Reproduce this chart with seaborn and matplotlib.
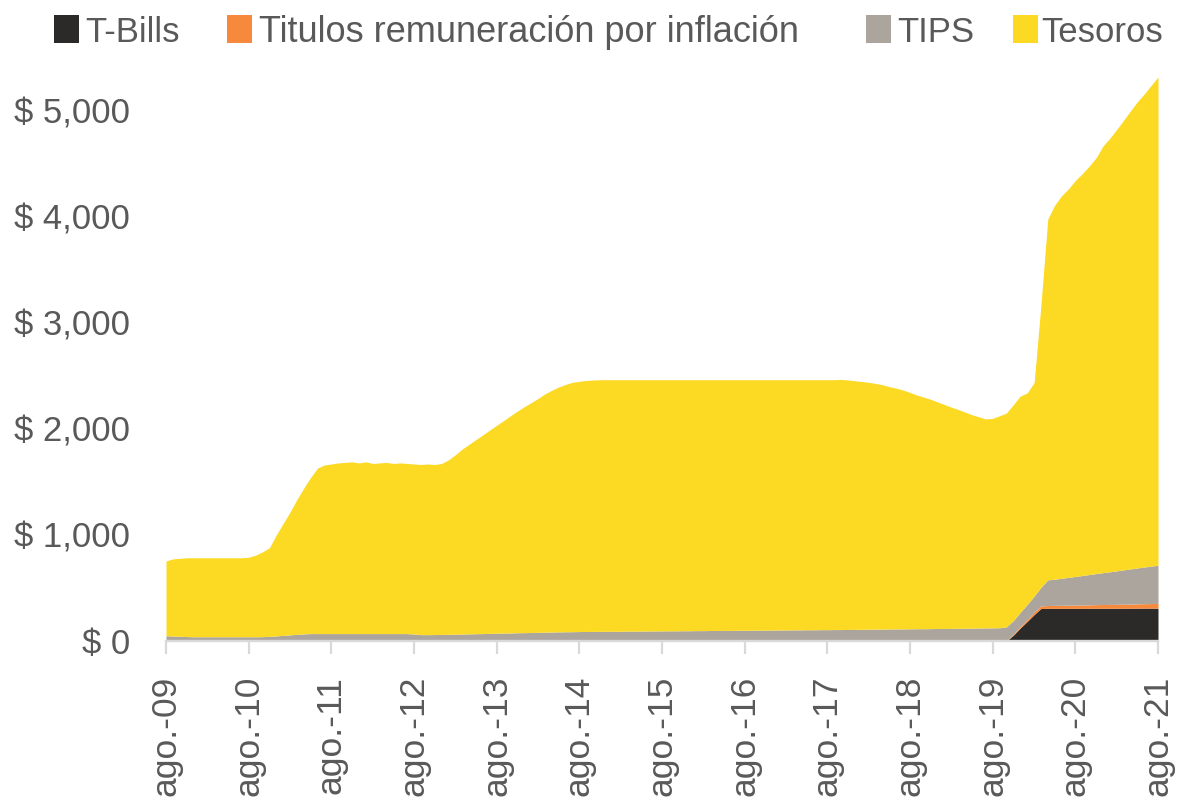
import matplotlib
matplotlib.use("Agg")
import matplotlib.pyplot as plt
from matplotlib.patches import Rectangle
import numpy as np
import pandas as pd
import seaborn as sns

# Datos mensuales (ago-2009 a ago-2021), miles de millones USD
dates = pd.date_range("2009-08-01", "2021-08-01", freq="MS")

series_names = ["T-Bills", "Titulos remuneración por inflación", "TIPS", "Tesoros"]
series_colors = ["#2c2a28", "#f6893b", "#aca59e", "#fcd923"]

t_bills = [0] * 122 + [
    0, 55, 122, 185, 250, 306, 308, 308, 308, 308, 308, 308, 308,
    309, 309, 309, 309, 309, 309, 310, 310, 310, 310,
]

titulos = [0] * 122 + [
    3, 10, 15, 18, 22, 25, 27, 28, 29, 30, 31, 32, 33, 34, 35, 36,
    37, 38, 39, 40, 42, 43, 45,
]

tips = [
    50, 47, 44, 42, 40, 40, 40, 40, 40, 40, 40, 40, 40, 40, 41,
    44, 48, 53, 58, 63, 67,
    70, 70, 70, 70, 70, 70, 70, 70, 70, 70, 70, 70, 70, 70, 70,
    66, 60, 60, 61, 62, 63, 64, 66, 67, 69, 70, 72, 73, 75, 76, 78, 79, 80,
    82, 83, 85, 86, 87, 88, 89, 90, 90,
    91, 91, 92, 92, 93, 93, 94, 94, 95, 95, 96, 96, 97, 97, 98, 98, 99, 99,
    100, 100, 101, 101, 102, 102, 103, 103, 104, 104, 105, 105, 106, 106,
    107, 107, 108,
    108, 109, 110, 110, 111, 112, 112, 113, 114, 114, 115, 116, 116, 117,
    118, 118, 119, 120, 120, 121, 122, 123, 124, 125,
    130, 128, 133, 142, 153, 174, 242, 247, 255, 262, 270, 278, 286, 293,
    301, 308, 316, 324, 332, 339, 346, 353, 360,
]

tesoros = [
    705, 728, 736, 743, 745, 745, 745, 745, 745, 745, 745, 745, 750,
    770, 799, 836, 952, 1057, 1162, 1267, 1373, 1470, 1560,
    1590, 1600, 1610, 1615, 1620, 1610, 1620, 1605, 1610, 1615, 1605, 1610,
    1605, 1604, 1605, 1610, 1604, 1613,
    1647, 1696, 1744, 1788, 1831, 1875, 1918, 1962, 2005, 2049, 2092, 2131,
    2170, 2208, 2247, 2280, 2309, 2333, 2352, 2361, 2368, 2372,
    2374, 2374, 2373, 2373, 2372, 2372, 2371, 2371, 2370, 2370, 2369, 2369,
    2368, 2368, 2367, 2367, 2366, 2366, 2365, 2365, 2364, 2364, 2363, 2363,
    2362, 2362, 2361, 2361, 2360, 2360, 2359, 2359, 2358, 2358, 2357,
    2360, 2353, 2345, 2338, 2329, 2318, 2306, 2287, 2271, 2254, 2230, 2204,
    2184, 2163, 2137, 2112, 2086, 2065, 2040, 2014, 1993, 1972, 1976, 2000,
    2017, 2037, 2040, 1995, 2015, 2645, 3403, 3527, 3608, 3665, 3736, 3792,
    3853, 3924, 4025, 4092, 4168, 4239, 4320, 4396, 4462, 4534, 4605,
]

tick_dates = pd.date_range("2009-08-01", "2021-08-01", freq="12MS")
tick_labels = ["ago.-09", "ago.-10", "ago.-11", "ago.-12", "ago.-13", "ago.-14",
               "ago.-15", "ago.-16", "ago.-17", "ago.-18", "ago.-19", "ago.-20",
               "ago.-21"]
y_ticks = [0, 1000, 2000, 3000, 4000, 5000]

df = pd.DataFrame({"fecha": dates, "T-Bills": t_bills, "Titulos": titulos,
                   "TIPS": tips, "Tesoros": tesoros})

sns.set_theme(style="white")
plt.rcParams["font.family"] = ["Liberation Sans", "DejaVu Sans"]

W, H = 1178, 801
text_grey = "#595959"
axis_grey = "#d9d9d9"

fig = plt.figure(figsize=(W / 100, H / 100), dpi=100)
ax = fig.add_axes([166 / W, 1 - 641 / H, 992 / W, 583 / H])

ax.stackplot(df["fecha"], df["T-Bills"], df["Titulos"], df["TIPS"], df["Tesoros"],
             colors=series_colors, labels=series_names, linewidth=0)

ax.set_xlim(dates[0], dates[-1])
ax.set_ylim(0, 5500)
ax.set_yticks(y_ticks)
ax.set_yticklabels([f"$ {v:,.0f}" for v in y_ticks])
ax.set_xticks(tick_dates)
ax.set_xticklabels(tick_labels, rotation=90)

ax.tick_params(axis="y", left=False, length=0, pad=26, labelsize=25, labelcolor=text_grey)
ax.tick_params(axis="x", bottom=True, length=9, width=1.6, color=axis_grey, pad=16,
               labelsize=25.5, labelcolor=text_grey)

for side in ["left", "top", "right"]:
    ax.spines[side].set_visible(False)
ax.spines["bottom"].set_color(axis_grey)
ax.spines["bottom"].set_linewidth(1.7)
ax.grid(False)

# Leyenda superior, elementos colocados a mano como en el original
legend_items = [(54, 85), (227, 259), (866, 897), (1013, 1041)]
legend_sizes = [25, 26, 25, 25]
for (mx, tx), name, color, fs in zip(legend_items, series_names, series_colors, legend_sizes):
    fig.patches.append(Rectangle((mx / W, 1 - 43 / H), 25 / W, 28 / H,
                                 transform=fig.transFigure, facecolor=color,
                                 edgecolor="none", figure=fig))
    fig.text(tx / W, 1 - 42 / H, name, fontsize=fs, color=text_grey,
             ha="left", va="baseline")

fig.savefig("out.png", dpi=100)
